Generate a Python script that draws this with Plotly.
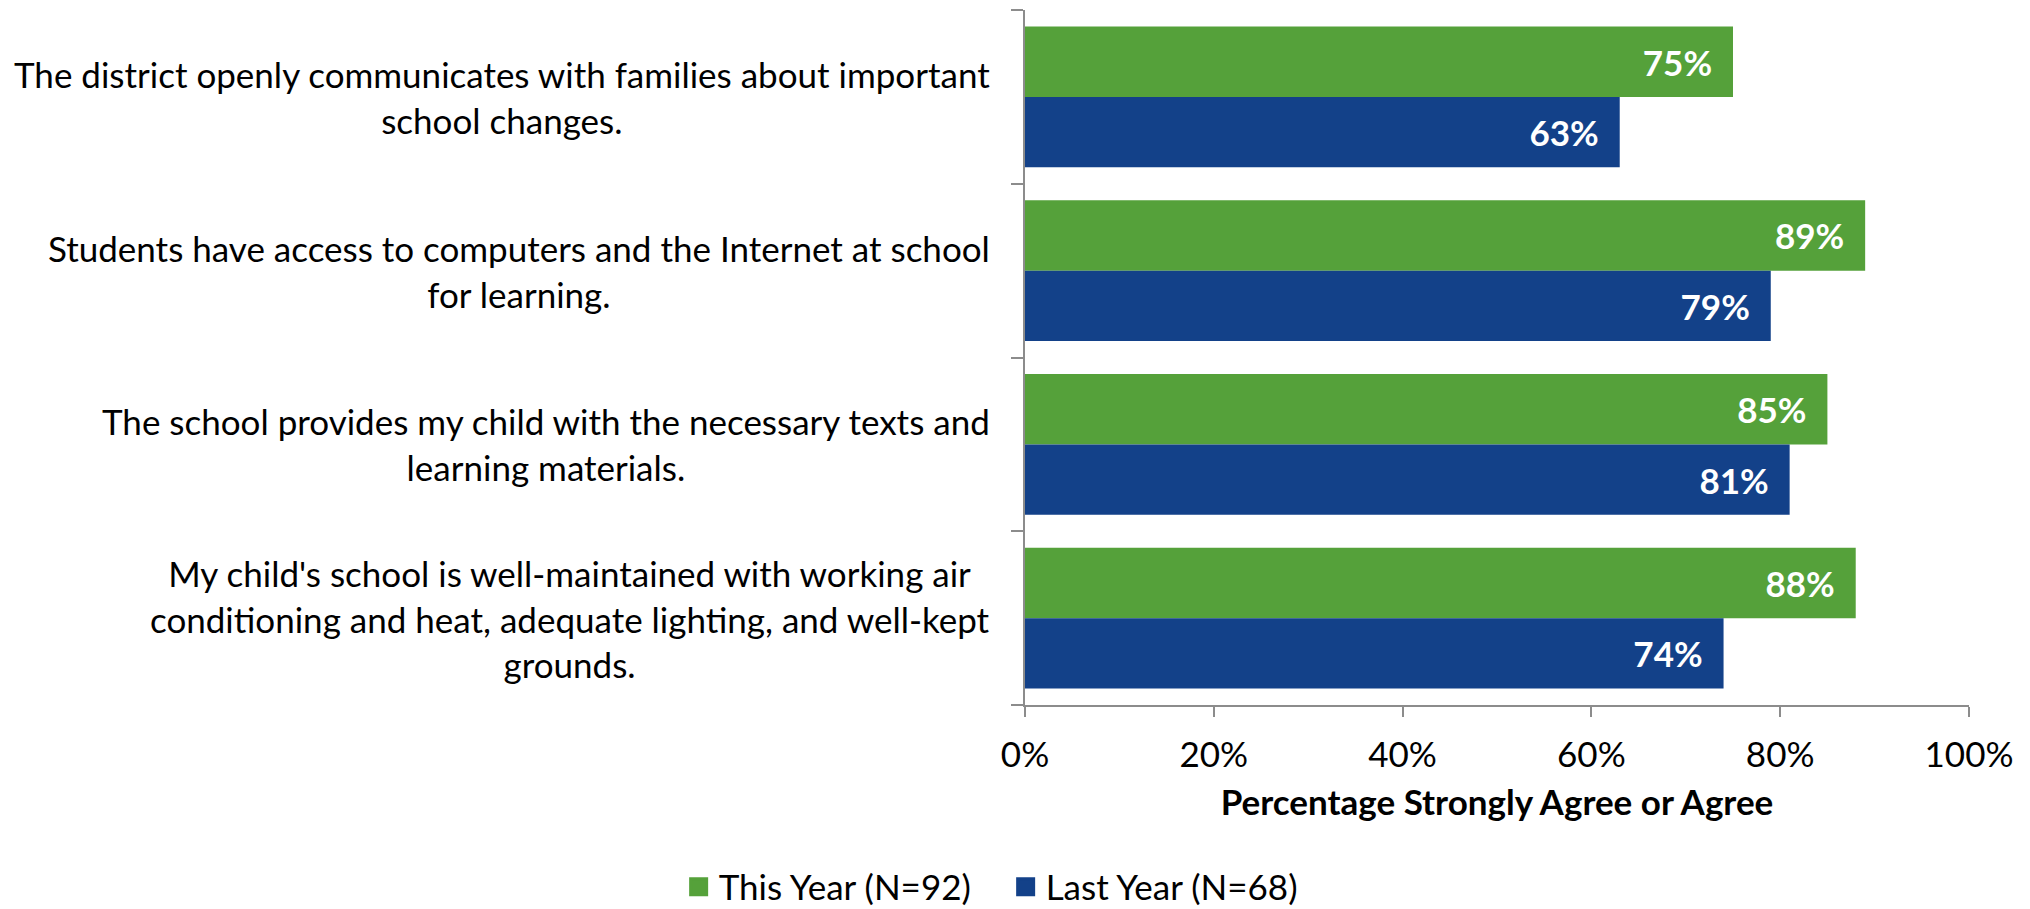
import plotly.graph_objects as go

categories = [
    "The district openly communicates with families about important<br>school changes.",
    "Students have access to computers and the Internet at school<br>for learning.",
    "The school provides my child with the necessary texts and<br>learning materials.",
    "My child's school is well-maintained with working air<br>conditioning and heat, adequate lighting, and well-kept<br>grounds.",
]
series_names = ["This Year (N=92)", "Last Year (N=68)"]
this_year = [75, 89, 85, 88]
last_year = [63, 79, 81, 74]
x_ticks = [0, 20, 40, 60, 80, 100]
x_tick_labels = ["0%", "20%", "40%", "60%", "80%", "100%"]
x_title = "Percentage Strongly Agree or Agree"

GREEN = "#55A13A"
BLUE = "#134189"
AXIS = "#8C8C8C"
FONT = "Lato, 'Open Sans', sans-serif"
FS = 35

cat_idx = list(range(len(categories)))

fig = go.Figure()
for name, vals, col in [(series_names[0], this_year, GREEN), (series_names[1], last_year, BLUE)]:
    fig.add_trace(go.Bar(
        y=cat_idx, x=vals, name=name, orientation="h",
        marker=dict(color=col, line=dict(width=0)),
        text=[f"{v}%" for v in vals], texttemplate="<b>%{text}</b>\u00a0\u00a0", textposition="inside",
        insidetextanchor="end", textangle=0,
        textfont=dict(color="white", size=FS, family=FONT),
        constraintext="none", hoverinfo="skip", showlegend=False,
    ))
    # legend entry with a larger square swatch
    fig.add_trace(go.Scatter(
        x=[None], y=[None], mode="markers", name=name,
        marker=dict(symbol="square", size=16, color=col, line=dict(color=col, width=3)),
        showlegend=True, hoverinfo="skip",
    ))

for i, c in enumerate(categories):
    fig.add_annotation(
        x=0, xref="paper", xanchor="right", xshift=-33,
        y=i, yref="y", yanchor="middle",
        text=c, showarrow=False, align="center",
        font=dict(size=FS, color="black", family=FONT),
    )

fig.update_layout(
    width=2022, height=901,
    margin=dict(l=1017, r=61, t=2, b=204, autoexpand=False),
    paper_bgcolor="white", plot_bgcolor="white",
    barmode="group", bargap=0.19, bargroupgap=0,
    font=dict(family=FONT, size=FS, color="black"),
    showlegend=True,
    legend=dict(orientation="h", x=-0.0205, xanchor="center", y=-0.262, yanchor="middle",
                font=dict(size=FS, family=FONT, color="black"), traceorder="normal",
                itemwidth=30, entrywidth=282),
)
fig.update_xaxes(
    range=[0, 100], tickvals=x_ticks, ticktext=x_tick_labels,
    showgrid=False, zeroline=False,
    showline=True, linecolor=AXIS, linewidth=2,
    ticks="outside", ticklen=10, tickcolor=AXIS, tickwidth=2,
    ticklabelstandoff=8,
    tickfont=dict(size=FS, family=FONT, color="black"),
    title=dict(text="<b>" + x_title + "</b>", font=dict(size=FS, family=FONT, color="black"), standoff=17),
)
fig.update_yaxes(
    type="linear", range=[3.5, -0.5], autorange=False,
    tickvals=[i - 0.5 for i in range(len(categories) + 1)],
    showticklabels=False, showgrid=False, zeroline=False,
    showline=True, linecolor=AXIS, linewidth=2,
    ticks="outside", ticklen=12, tickcolor=AXIS, tickwidth=2,
)

fig.write_html("out.html")
